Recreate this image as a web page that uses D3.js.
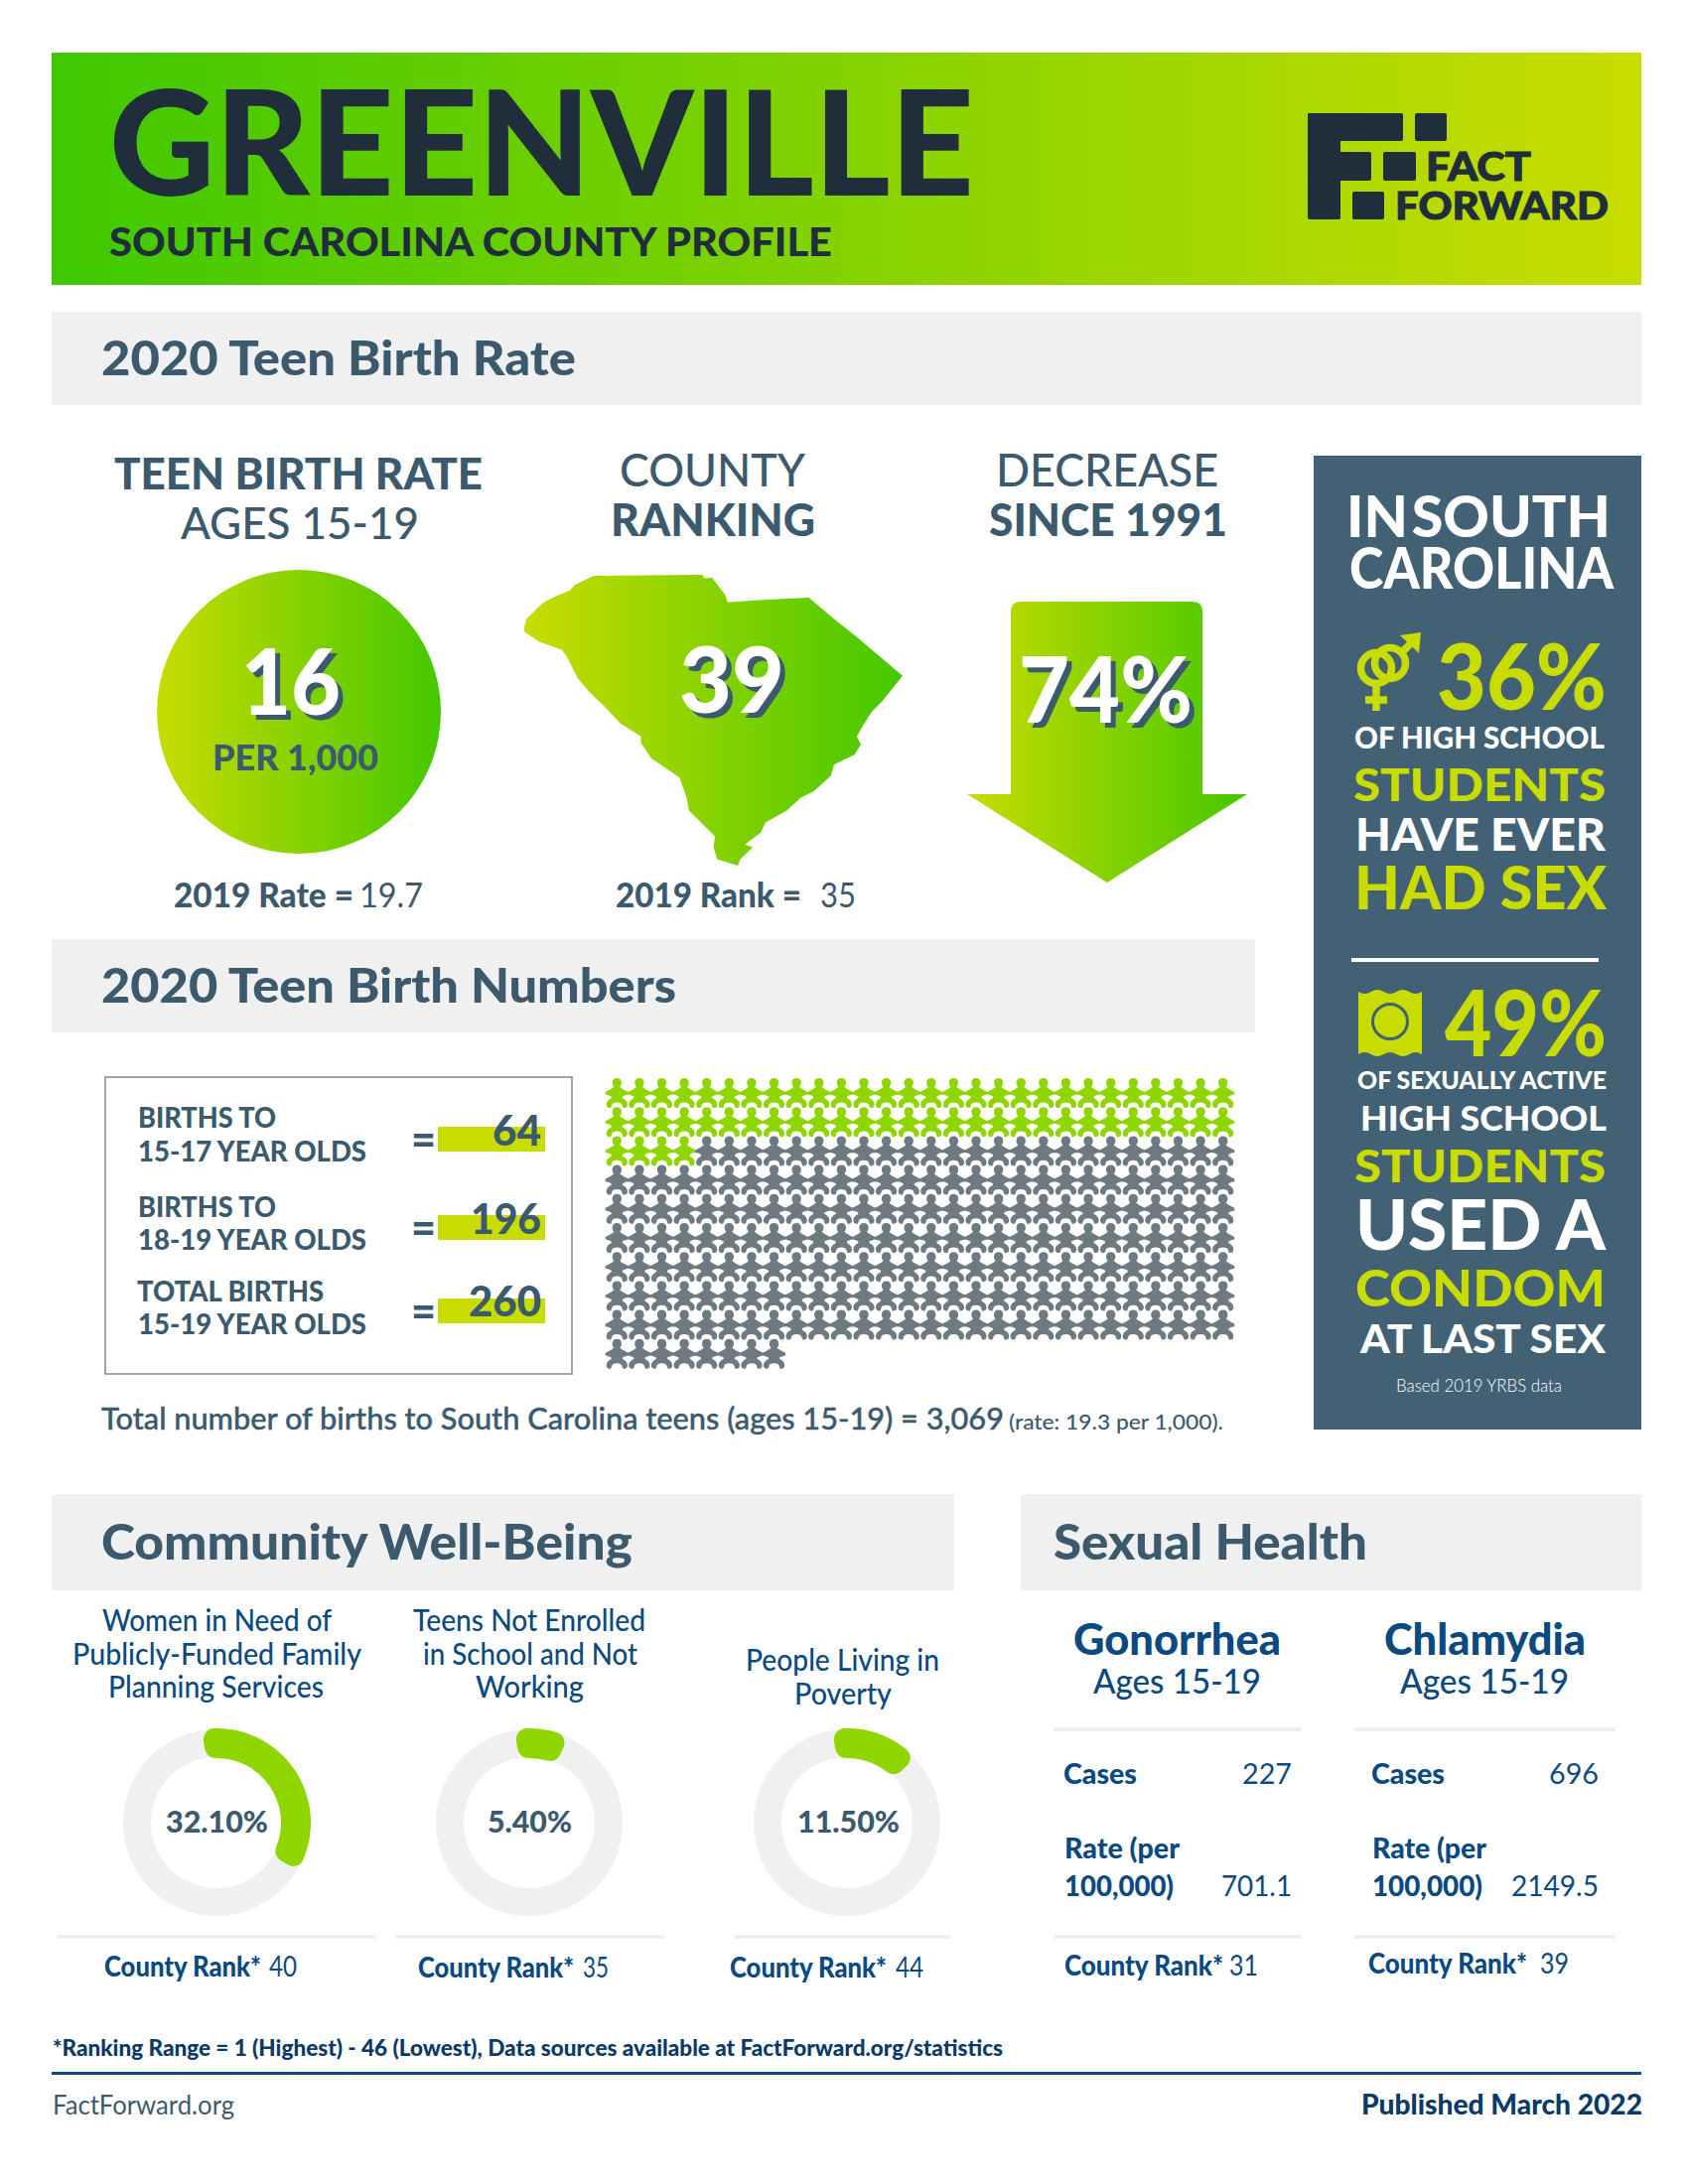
<!DOCTYPE html>
<html>
<head>
<meta charset="utf-8">
<title>Greenville County Profile</title>
<script src="https://cdn.jsdelivr.net/npm/d3@7"></script>
<style>
    body { margin: 0; background: #fff; }
    svg { display: block; }
    text { font-family: Lato, "Open Sans", sans-serif; }
</style>
</head>
<body>
<script>
var countyName = "GREENVILLE";
var birthRate = 16;
var rate2019 = 19.7;
var countyRank = 39;
var rank2019 = 35;
var decreasePct = 74;

var birthLines = [["BIRTHS TO", "15-17 YEAR OLDS"], ["BIRTHS TO", "18-19 YEAR OLDS"], ["TOTAL BIRTHS", "15-19 YEAR OLDS"]];
var birthValues = [64, 196, 260];
var iconsGreen = 60;
var iconsTotal = 260;

var donutTitles = [["Women in Need of", "Publicly-Funded Family", "Planning Services"], ["Teens Not Enrolled", "in School and Not", "Working"], ["People Living in", "Poverty"]];
var donutValues = [32.1, 5.4, 11.5];
var donutRanks = [40, 35, 44];

var diseaseNames = ["Gonorrhea", "Chlamydia"];
var diseaseCases = [227, 696];
var diseaseRates = ["701.1", "2149.5"];
var diseaseRanks = [31, 39];

var stateStats = [36, 49];

// South Carolina outline
var stateLon = [-82.47, -81.09, -81.06, -80.97, -80.80, -80.77, -80.26, -79.74, -79.45, -79.13, -78.55, -78.81, -78.94, -79.07, -79.13, -79.08, -79.16, -79.42, -79.46, -79.68, -79.84, -80.02, -80.29, -80.35, -80.55, -80.45, -80.61, -80.64, -80.90, -80.95, -80.93, -81.26, -81.29, -81.38, -81.74, -81.87, -81.87, -82.13, -82.35, -82.51, -82.67, -82.80, -82.87, -83.16, -83.35, -83.35, -83.32, -83.12, -82.99, -82.77, -82.71];
var stateLat = [35.19, 35.20, 35.16, 35.17, 34.98, 34.90, 34.93, 34.95, 34.74, 34.52, 34.10, 33.82, 33.71, 33.53, 33.44, 33.35, 33.24, 33.13, 33.01, 32.84, 32.77, 32.63, 32.50, 32.39, 32.26, 32.23, 32.10, 32.03, 32.10, 32.23, 32.35, 32.63, 32.77, 32.99, 33.20, 33.37, 33.44, 33.58, 33.78, 33.91, 34.07, 34.29, 34.38, 34.47, 34.58, 34.63, 34.72, 34.89, 34.95, 35.03, 35.09];

var dark = "#1f2e3a";
var slate = "#3b5a6d";
var panel = "#436175";
var lime = "#c8dc00";
var navy = "#0b4a80";
var barGrey = "#f0f0f1";

var svg = d3.select("body").append("svg")
    .attr("width", 1700)
    .attr("height", 2200);

var defs = svg.append("defs");

function gradient(id, from, to) {
    var g = defs.append("linearGradient").attr("id", id);
    g.append("stop").attr("offset", "0%").attr("stop-color", from);
    g.append("stop").attr("offset", "100%").attr("stop-color", to);
}
gradient("bandGrad", "#3fc800", "#c9dd00");
gradient("limeGreen", "#c8dc00", "#44c800");

// text squeezed between x1 and x2 so it lands where the original does
function texto(s, x1, x2, y, size, weight, color) {
    return svg.append("text")
        .attr("x", x1)
        .attr("y", y)
        .attr("font-size", size)
        .attr("font-weight", weight)
        .attr("fill", color)
        .attr("textLength", x2 - x1)
        .attr("lengthAdjust", "spacingAndGlyphs")
        .text(s);
}

function caja(x, y, w, h, color) {
    return svg.append("rect").attr("x", x).attr("y", y).attr("width", w).attr("height", h).attr("fill", color);
}

function conSombra(sel) {
    sel.style("filter", "drop-shadow(5px 5px 0 " + slate + ")");
}

// header band
caja(52, 53, 1601, 234, "url(#bandGrad)");
texto(countyName, 110, 981, 197, 147, 900, dark);
texto("SOUTH CAROLINA COUNTY PROFILE", 110, 838, 258, 39, 900, dark);

// logo
var logo = svg.append("g").attr("fill", dark);
[[1317, 114, 96, 28], [1317, 114, 33, 107], [1317, 153, 64, 29], [1425, 114, 32, 28], [1393, 153, 33, 29], [1362, 193, 32, 28]].forEach(function (r) {
    logo.append("rect").attr("x", r[0]).attr("y", r[1]).attr("width", r[2]).attr("height", r[3]).attr("rx", 2);
});
texto("FACT", 1436, 1542, 182, 39, 900, dark).attr("stroke", dark).attr("stroke-width", 1);
texto("FORWARD", 1405, 1620, 221, 38, 900, dark).attr("stroke", dark).attr("stroke-width", 1);

// section bars
caja(52, 314, 1601, 94, barGrey);
caja(52, 946, 1212, 94, barGrey);
caja(52, 1505, 909, 97, barGrey);
caja(1028, 1505, 625, 97, barGrey);
texto("2020 Teen Birth Rate", 102, 580, 378, 48, 900, slate);
texto("2020 Teen Birth Numbers", 102, 681, 1010, 48, 900, slate);
texto("Community Well-Being", 102, 637, 1571, 50, 900, slate);
texto("Sexual Health", 1061, 1377, 1571, 50, 900, slate);

// rate column
texto("TEEN BIRTH RATE", 115, 486, 493, 44, 900, slate);
texto("AGES 15-19", 182, 422, 543, 44, 500, slate);
svg.append("circle").attr("cx", 301).attr("cy", 717).attr("r", 143).attr("fill", "url(#limeGreen)");
conSombra(texto(String(birthRate), 243, 343, 720, 92, 900, "#fff"));
texto("PER 1,000", 214, 381, 776, 36, 900, slate);
texto("2019 Rate =", 175, 356, 914, 34, 900, slate);
texto(String(rate2019), 362, 426, 914, 34, 400, slate);

// ranking column
texto("COUNTY", 624, 811, 490, 46, 500, slate);
texto("RANKING", 615, 821, 540, 46, 900, slate);

var stateX = d3.scaleLinear().domain([-83.35, -78.55]).range([528, 909]);
var stateY = d3.scaleLinear().domain([32.03, 35.2]).range([872, 579]);
var stateLine = d3.line()
    .x(function (d) { return stateX(d[0]); })
    .y(function (d) { return stateY(d[1]); })
    .curve(d3.curveLinearClosed);
svg.append("path")
    .attr("d", stateLine(d3.zip(stateLon, stateLat)))
    .attr("fill", "url(#limeGreen)");
conSombra(texto(String(countyRank), 684, 790, 718, 92, 900, "#fff"));
texto("2019 Rank =", 620, 807, 914, 34, 900, slate);
texto(String(rank2019), 826, 862, 914, 34, 400, slate);

// decrease column
texto("DECREASE", 1003, 1227, 490, 46, 500, slate);
texto("SINCE 1991", 996, 1236, 540, 46, 900, slate);
svg.append("path")
    .attr("d", "M1018,616 Q1018,606 1028,606 L1201,606 Q1211,606 1211,616 L1211,800 L1256,800 L1115,889 L974,800 L1018,800 Z")
    .attr("fill", "url(#limeGreen)");
conSombra(texto(decreasePct + "%", 1026, 1201, 728, 92, 900, "#fff"));

// births box
svg.append("rect").attr("x", 106).attr("y", 1085).attr("width", 470).attr("height", 299)
    .attr("fill", "none").attr("stroke", "#888").attr("stroke-width", 1.5);
var lineY = [[1136, 1170], [1226, 1259], [1311, 1344]];
var firstLineX = [[139, 278], [139, 278], [138, 326]];
var barY = [1135, 1224, 1308];
var numberY = [1154, 1243, 1326];
var numberX = [[496, 545], [474, 545], [472, 545]];
birthValues.forEach(function (v, i) {
    texto(birthLines[i][0], firstLineX[i][0], firstLineX[i][1], lineY[i][0], 28, 900, slate);
    texto(birthLines[i][1], 139, 369, lineY[i][1], 28, 900, slate);
    texto("=", 414, 439, barY[i] + 29, 46, 900, slate);
    caja(441, barY[i], 108, 25, lime);
    texto(String(v), numberX[i][0], numberX[i][1], numberY[i], 42, 900, slate);
});

// one little figure per birth
var iconRows = Math.ceil(iconsTotal / 28);
var iconX = d3.scaleBand().domain(d3.range(28)).range([610, 1243]);
var iconY = d3.scaleBand().domain(d3.range(iconRows)).range([1086, 1378]);
var personPath = "M0,0 C2.9,0 4.7,2 4.7,4.6 C4.7,6.6 3.8,8 3,9 C5,10.5 8,12.5 11.6,14 L11.6,16.6 C9.5,16.8 7.5,17.4 5.6,18.6 C5.4,19.4 5.6,20 6,20.5 C8.8,21.6 10.6,24 10.6,26.4 C10.6,28.6 9.5,30 7.6,30 L6.2,30 L5.2,27.6 C5,25.2 3,24.4 0,24.4 C-3,24.4 -5,25.2 -5.2,27.6 L-6.2,30 L-7.6,30 C-9.5,30 -10.6,28.6 -10.6,26.4 C-10.6,24 -8.8,21.6 -6,20.5 C-5.6,20 -5.4,19.4 -5.6,18.6 C-7.5,17.4 -9.5,16.8 -11.6,16.6 L-11.6,14 C-8,12.5 -5,10.5 -3,9 C-3.8,8 -4.7,6.6 -4.7,4.6 C-4.7,2 -2.9,0 0,0 Z";
svg.append("g").selectAll("path")
    .data(d3.range(iconsTotal))
    .join("path")
    .attr("d", personPath)
    .attr("transform", function (d) {
        return "translate(" + (iconX(d % 28) + iconX.bandwidth() / 2) + "," + iconY(Math.floor(d / 28)) + ")";
    })
    .attr("fill", function (d) { return d < iconsGreen ? "#8fd600" : "#6d7a82"; });

texto("Total number of births to South Carolina teens (ages 15-19) = 3,069", 102, 1011, 1440, 30, 500, slate)
    .attr("stroke", slate).attr("stroke-width", 0.4);
texto("(rate: 19.3 per 1,000).", 1016, 1232, 1440, 21, 500, slate);

// right panel
caja(1323, 459, 330, 981, panel);
texto("IN SOUTH", 1356, 1622, 541, 58, 900, "#fff").style("word-spacing", "-10px");
texto("CAROLINA", 1359, 1625, 593, 58, 900, "#fff");

// sex symbols
var sexIcon = svg.append("g").attr("fill", "none").attr("stroke", lime).attr("stroke-width", 7.5);
sexIcon.append("circle").attr("cx", 1386).attr("cy", 673).attr("r", 15.5);
sexIcon.append("circle").attr("cx", 1400).attr("cy", 668).attr("r", 15.5);
sexIcon.append("path").attr("d", "M1386,690 L1386,716 M1375,705 L1397,705 M1412,657 L1424,645");
svg.append("path").attr("d", "M1410,640 L1431,637 L1429,658 Z").attr("fill", lime);

texto(stateStats[0] + "%", 1447, 1618, 715, 92, 900, lime);
texto("OF HIGH SCHOOL", 1364, 1616, 754, 30, 900, "#fff");
texto("STUDENTS", 1363, 1617, 807, 46, 900, lime);
texto("HAVE EVER", 1365, 1617, 857, 46, 900, "#fff");
texto("HAD SEX", 1364, 1618, 916, 60, 900, lime);
caja(1361, 965, 249, 4, "#fff");

// condom wrapper
svg.append("path")
    .attr("d", "M1368,999 q6.4,4 12.8,0 t12.8,0 t12.8,0 t12.8,0 t12.8,0 L1432,1062 q-6.4,-4 -12.8,0 t-12.8,0 t-12.8,0 t-12.8,0 t-12.8,0 Z")
    .attr("fill", lime);
svg.append("circle").attr("cx", 1400).attr("cy", 1029).attr("r", 17.5)
    .attr("fill", "none").attr("stroke", panel).attr("stroke-width", 3);

texto(stateStats[1] + "%", 1455, 1618, 1064, 92, 900, lime);
texto("OF SEXUALLY ACTIVE", 1367, 1618, 1097, 25, 900, "#fff");
texto("HIGH SCHOOL", 1370, 1618, 1139, 35, 900, "#fff");
texto("STUDENTS", 1364, 1617, 1191, 46, 900, lime);
texto("USED A", 1365, 1617, 1259, 70, 900, "#fff");
texto("CONDOM", 1365, 1617, 1316, 52, 900, lime);
texto("AT LAST SEX", 1370, 1617, 1363, 40, 900, "#fff");
texto("Based 2019 YRBS data", 1406, 1573, 1402, 18, 300, "#fff");

// well-being donuts
var donutX = [218, 533, 853];
var valueX = [[167, 270], [491, 576], [803, 906]];
var titleY = [[1643, 1677, 1710], [1643, 1677, 1710], [1683, 1717]];
var titleX = [[[103, 334], [73, 364], [109, 326]], [[416, 650], [426, 642], [479, 588]], [[751, 946], [800, 898]]];
var ruleX = [[57, 379], [398, 669], [740, 957]];
var rankX = [[105, 263, 271, 299], [421, 578, 587, 613], [735, 893, 902, 930]];
var rankY = [1991, 1992, 1992];

var angulo = d3.scaleLinear().domain([0, 100]).range([0, 2 * Math.PI]);
var capStart = 9 * Math.PI / 180;
var capEnd = 5 * Math.PI / 180;
var anillo = d3.arc().innerRadius(66).outerRadius(94);
var tramo = d3.arc().innerRadius(65).outerRadius(95).cornerRadius(11);

donutValues.forEach(function (v, i) {
    var g = svg.append("g").attr("transform", "translate(" + donutX[i] + ",1836)");
    g.append("path")
        .attr("d", anillo({ startAngle: 0, endAngle: 2 * Math.PI }))
        .attr("fill", "#f0f0f0");
    g.append("path")
        .attr("d", tramo({ startAngle: -capStart, endAngle: angulo(v) + capEnd }))
        .attr("fill", "#8fd600");
    donutTitles[i].forEach(function (t, j) {
        texto(t, titleX[i][j][0], titleX[i][j][1], titleY[i][j], 31, 500, navy);
    });
    texto(d3.format(".2f")(v) + "%", valueX[i][0], valueX[i][1], 1846, 31, 900, slate);
    caja(ruleX[i][0], 1949, ruleX[i][1] - ruleX[i][0], 4, "#efefeb");
    texto("County Rank*", rankX[i][0], rankX[i][1], rankY[i], 28, 900, navy);
    texto(String(donutRanks[i]), rankX[i][2], rankX[i][3], rankY[i], 28, 400, navy);
});

// sexual health columns
var nameX = [[1081, 1290], [1394, 1597]];
var agesX = [[1101, 1270], [1410, 1580]];
var lineX = [[1061, 1311], [1364, 1627]];
var casesLabelX = [[1071, 1145], [1381, 1455]];
var casesX = [[1251, 1301], [1560, 1610]];
var rateLabelX = [[1072, 1188], [1382, 1497]];
var rateLabel2X = [[1072, 1182], [1382, 1493]];
var rateX = [[1230, 1301], [1522, 1610]];
var finalRank = [[1072, 1232, 1238, 1267, 1990], [1378, 1538, 1551, 1580, 1988]];

diseaseNames.forEach(function (name, i) {
    texto(name, nameX[i][0], nameX[i][1], 1667, 44, 900, navy);
    texto("Ages 15-19", agesX[i][0], agesX[i][1], 1706, 34, 500, navy);
    caja(lineX[i][0], 1740, lineX[i][1] - lineX[i][0], 4, "#efefeb");
    caja(lineX[i][0], 1949, lineX[i][1] - lineX[i][0], 4, "#efefeb");
    texto("Cases", casesLabelX[i][0], casesLabelX[i][1], 1797, 29, 900, navy);
    texto(String(diseaseCases[i]), casesX[i][0], casesX[i][1], 1797, 29, 400, navy);
    texto("Rate (per", rateLabelX[i][0], rateLabelX[i][1], 1872, 29, 900, navy);
    texto("100,000)", rateLabel2X[i][0], rateLabel2X[i][1], 1910, 29, 900, navy);
    texto(diseaseRates[i], rateX[i][0], rateX[i][1], 1910, 29, 400, navy);
    texto("County Rank*", finalRank[i][0], finalRank[i][1], finalRank[i][4], 28, 900, navy);
    texto(String(diseaseRanks[i]), finalRank[i][2], finalRank[i][3], finalRank[i][4], 28, 400, navy);
});

// footer
texto("*Ranking Range = 1 (Highest) - 46 (Lowest), Data sources available at FactForward.org/statistics", 53, 1010, 2071, 22, 900, "#0b3a66");
caja(52, 2087, 1601, 3, navy);
texto("FactForward.org", 53, 236, 2130, 26, 400, slate);
texto("Published March 2022", 1371, 1654, 2130, 28, 900, "#0b3a66");
</script>
</body>
</html>
